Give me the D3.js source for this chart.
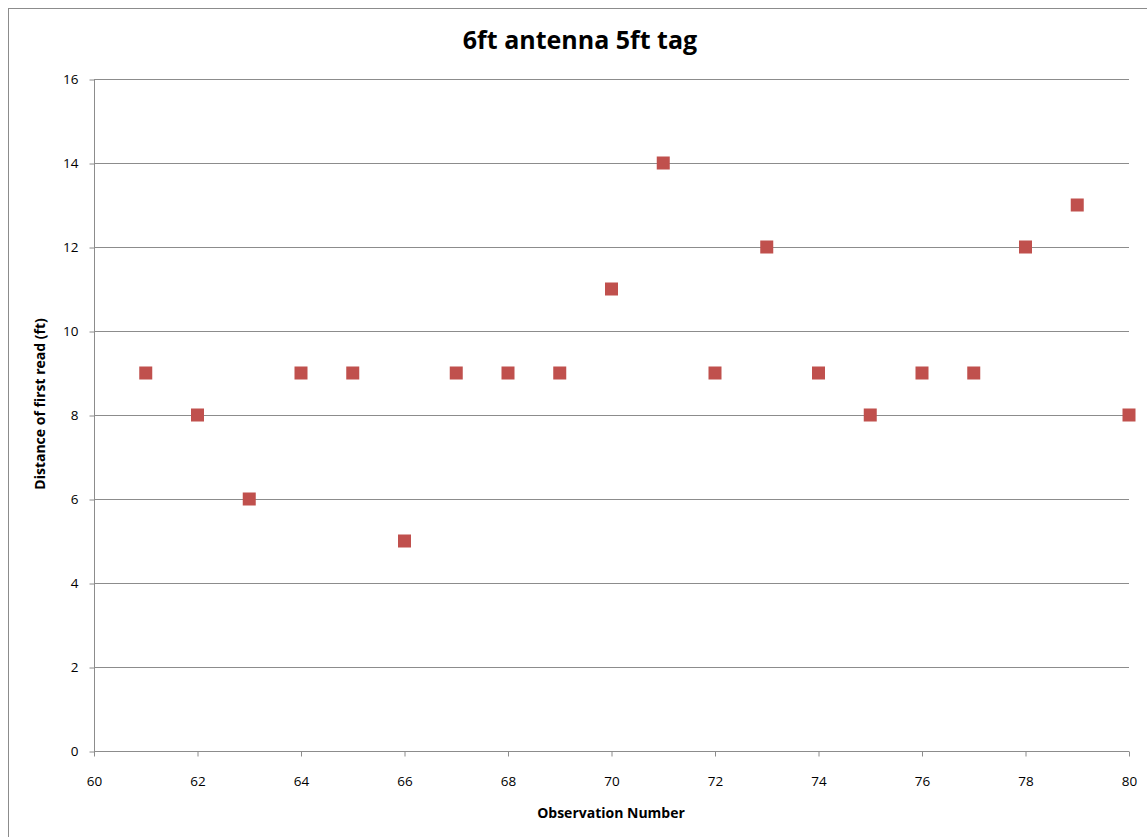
<!DOCTYPE html>
<html>
<head>
<meta charset="utf-8">
<title>6ft antenna 5ft tag</title>
<script src="https://d3js.org/d3.v7.min.js"></script>
<style>
  body { margin: 0; background: #fff; }
  svg { display: block; font-family: "Open Sans", "DejaVu Sans", sans-serif; }
</style>
</head>
<body>
<script>
// observation number vs distance of first read (ft)
var observations = [61, 62, 63, 64, 65, 66, 67, 68, 69, 70, 71, 72, 73, 74, 75, 76, 77, 78, 79, 80];
var distances    = [9, 8, 6, 9, 9, 5, 9, 9, 9, 11, 14, 9, 12, 9, 8, 9, 9, 12, 13, 8];
var xTicks = [60, 62, 64, 66, 68, 70, 72, 74, 76, 78, 80];
var yTicks = [0, 2, 4, 6, 8, 10, 12, 14, 16];

var width = 1147, height = 837;
var margin = {left: 94, right: 18, top: 79, bottom: 86};

var svg = d3.select("body").append("svg")
    .attr("width", width)
    .attr("height", height);

// chart border
svg.append("rect")
    .attr("x", 8.5).attr("y", 8.5)
    .attr("width", width + 10).attr("height", height + 10)
    .attr("fill", "none")
    .attr("stroke", "#8c8c8c")
    .attr("stroke-width", 1);

var x = d3.scaleLinear().domain([60, 80]).range([margin.left, width - margin.right]);
var y = d3.scaleLinear().domain([0, 16]).range([height - margin.bottom, margin.top]);

// gridlines
svg.append("g")
    .selectAll("line")
    .data(yTicks)
    .join("line")
    .attr("x1", x(60)).attr("x2", x(80))
    .attr("y1", d => Math.round(y(d)) + 0.5)
    .attr("y2", d => Math.round(y(d)) + 0.5)
    .attr("stroke", "#8c8c8c");

var yAxis = svg.append("g")
    .attr("transform", "translate(" + (x(60) + 0.5) + ",0.5)")
    .call(d3.axisLeft(y).tickValues(yTicks).tickSize(5).tickPadding(11));

var xAxis = svg.append("g")
    .attr("transform", "translate(0," + (Math.round(y(0)) + 0.5) + ")")
    .call(d3.axisBottom(x).tickValues(xTicks).tickSize(5).tickPadding(20));

[xAxis, yAxis].forEach(function(a) {
    a.selectAll("path, line").attr("stroke", "#8c8c8c");
    a.selectAll("text").attr("font-size", 13.5).attr("fill", "#000")
        .attr("font-family", "\"Open Sans\", sans-serif");
});
xAxis.select(".domain").attr("d", "M" + x(60) + ",0H" + x(80));
yAxis.select(".domain").attr("d", "M0," + y(0) + "V" + y(16));

// markers
var size = 13;
svg.append("g")
    .selectAll("rect")
    .data(observations)
    .join("rect")
    .attr("x", (d, i) => x(d) - size / 2)
    .attr("y", (d, i) => y(distances[i]) - size / 2)
    .attr("width", size)
    .attr("height", size)
    .attr("fill", "#c0504d");

svg.append("text")
    .attr("x", 580).attr("y", 49)
    .attr("text-anchor", "middle")
    .attr("font-size", 25)
    .attr("font-weight", "bold")
    .text("6ft antenna 5ft tag");

svg.append("text")
    .attr("x", 611).attr("y", 818)
    .attr("text-anchor", "middle")
    .attr("font-size", 14)
    .attr("font-weight", "bold")
    .text("Observation Number");

svg.append("text")
    .attr("transform", "translate(45,404) rotate(-90)")
    .attr("text-anchor", "middle")
    .attr("font-size", 14)
    .attr("font-weight", "bold")
    .text("Distance  of first read (ft)");
</script>
</body>
</html>
